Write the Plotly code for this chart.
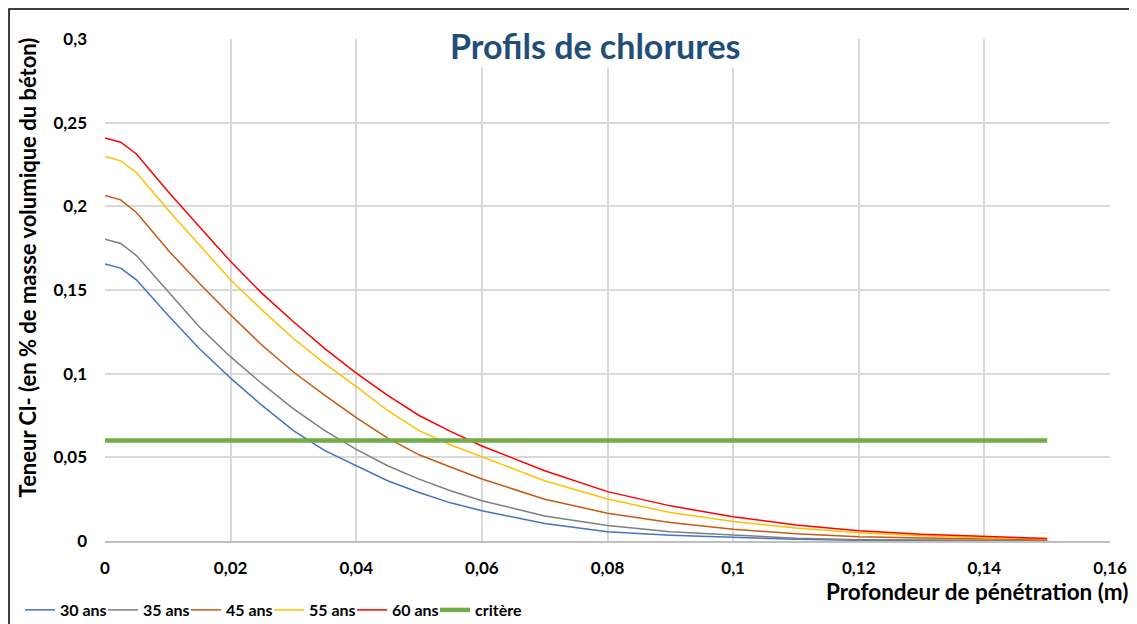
import plotly.graph_objects as go

# profondeur (m)
depth = [0, 0.0025, 0.005, 0.01, 0.015, 0.02, 0.025, 0.03, 0.035, 0.04, 0.045, 0.05,
         0.055, 0.06, 0.07, 0.08, 0.09, 0.1, 0.11, 0.12, 0.13, 0.14, 0.15]

ans_30 = [0.1656, 0.1631, 0.1561, 0.135, 0.115, 0.0973, 0.081, 0.066, 0.054, 0.0449, 0.036, 0.029,
          0.0228, 0.0181, 0.0105, 0.0056, 0.0035, 0.0022, 0.0011, 0.0005, 0.0003, 0.0002, 0.0001]
ans_35 = [0.1804, 0.1778, 0.1706, 0.149, 0.128, 0.110, 0.094, 0.079, 0.066, 0.0548, 0.045, 0.037,
          0.0300, 0.0241, 0.015, 0.0092, 0.0055, 0.0036, 0.0017, 0.0008, 0.0005, 0.0003, 0.0002]
ans_45 = [0.2065, 0.2039, 0.1963, 0.174, 0.154, 0.1351, 0.117, 0.101, 0.087, 0.0737, 0.0615, 0.0515,
          0.0442, 0.0371, 0.025, 0.0166, 0.011, 0.007, 0.0043, 0.0026, 0.0018, 0.0012, 0.0008]
ans_55 = [0.2298, 0.2272, 0.2202, 0.198, 0.177, 0.156, 0.138, 0.121, 0.106, 0.0923, 0.078, 0.066,
          0.0575, 0.0504, 0.036, 0.0251, 0.017, 0.0116, 0.0077, 0.005, 0.0032, 0.002, 0.0012]
ans_60 = [0.2408, 0.2383, 0.2313, 0.209, 0.188, 0.167, 0.148, 0.131, 0.115, 0.1003, 0.087, 0.075,
          0.0655, 0.0568, 0.042, 0.0295, 0.021, 0.0145, 0.0095, 0.0062, 0.004, 0.0026, 0.0015]

critere_x = [0, 0.15]
critere_y = [0.06, 0.06]

series = [
    ("30 ans", ans_30, "#4472C4"),
    ("35 ans", ans_35, "#7F7F7F"),
    ("45 ans", ans_45, "#C55A11"),
    ("55 ans", ans_55, "#FFC000"),
    ("60 ans", ans_60, "#FF0000"),
]

FONT = "Lato, 'Open Sans', sans-serif"

fig = go.Figure()
for name, vals, color in series:
    fig.add_trace(go.Scatter(x=depth, y=vals, name=name, mode="lines",
                             line=dict(color=color, width=1.5)))
fig.add_trace(go.Scatter(x=critere_x, y=critere_y, name="critère", mode="lines",
                         line=dict(color="#70AD47", width=4.5)))
# entrée vide pour que le texte « critère » ne soit pas rogné dans la légende
fig.add_trace(go.Scatter(x=[None], y=[None], name=" ", mode="lines",
                         line=dict(color="rgba(0,0,0,0)"), hoverinfo="skip"))

# la page ajoute une marge de 8 px : la figure fait donc 1129 x 616
fig.update_layout(
    width=1129, height=616,
    margin=dict(l=97, r=27, t=31, b=83, autoexpand=False),
    paper_bgcolor="white", plot_bgcolor="white",
    separators=", ",
    font=dict(family=FONT, color="black", size=16),
    showlegend=True,
    legend=dict(orientation="h", x=(20 - 105) / 1005, xanchor="left",
                y=(541 - 610) / 502, yanchor="middle",
                font=dict(size=16, family=FONT, weight="bold"),
                entrywidth=38, entrywidthmode="pixels",
                itemwidth=30, tracegroupgap=0, bgcolor="rgba(0,0,0,0)"),
)
fig.update_xaxes(range=[0, 0.16], dtick=0.02, tick0=0, showgrid=True, gridcolor="#D9D9D9",
                 gridwidth=1.5, zeroline=False, showline=True, linecolor="#BFBFBF", linewidth=2,
                 ticks="", tickfont=dict(size=17, weight="bold"), ticklabelstandoff=11)
fig.update_yaxes(range=[0, 0.3], dtick=0.05, tick0=0, showgrid=True, gridcolor="#D9D9D9",
                 gridwidth=1.5, zeroline=False, showline=False, ticks="",
                 tickfont=dict(size=17, weight="bold"), ticklabelstandoff=17)

fig.add_annotation(text="Profils de chlorures", xref="paper", yref="paper", x=0.4876, y=1.0,
                   yanchor="top", yshift=16, showarrow=False, bgcolor="white",
                   font=dict(size=34, color="#1F4E79", family=FONT, weight="bold"))
fig.add_annotation(text="Teneur Cl- (en % de masse volumique du béton)", textangle=-90,
                   xref="paper", yref="paper", x=-0.0776, y=0.545, xanchor="center", yanchor="middle",
                   showarrow=False, font=dict(size=22, family=FONT, weight="bold"))
fig.add_annotation(text="Profondeur de pénétration (m)", xref="paper", yref="paper",
                   x=1.0, y=-0.1, xanchor="right", yanchor="middle", xshift=21, showarrow=False,
                   font=dict(size=22.5, family=FONT, weight="bold"))

# cadre du graphique
fig.add_shape(type="rect", xref="paper", yref="paper", x0=-0.0955, x1=1.0259, y0=-0.3, y1=1.0598,
              line=dict(color="black", width=1.5), layer="above")

fig.write_html("out.html")
